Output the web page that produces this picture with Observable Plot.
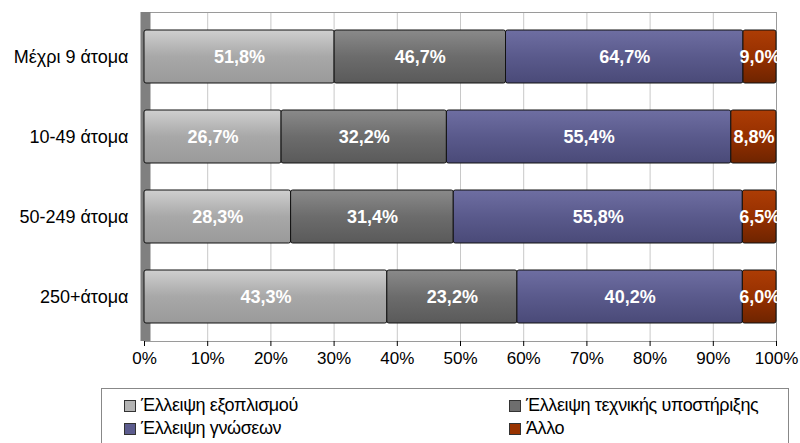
<!DOCTYPE html>
<html>
<head>
<meta charset="utf-8">
<script src="https://cdn.jsdelivr.net/npm/d3@7"></script>
<script src="https://cdn.jsdelivr.net/npm/@observablehq/plot@0.6"></script>
<style>
  body { margin: 0; background: #fff; font-family: "Liberation Sans", Arial, sans-serif; }
  #wrap { position: relative; width: 800px; height: 443px; overflow: hidden; }
  #legend { position: absolute; left: 101px; top: 388px; width: 688px; height: 70px;
    border: 1px solid #888; box-sizing: border-box; font-size: 18px; color: #000; }
  .li { position: absolute; display: flex; align-items: center; white-space: nowrap; letter-spacing: -0.4px; }
  .sw { width: 10px; height: 10px; border: 1px solid #333; margin-right: 5px; }
</style>
</head>
<body>
<div id="wrap"><div id="chart"></div><div id="legend"></div></div>
<script>
const categories = ["Μέχρι 9 άτομα", "10-49 άτομα", "50-249 άτομα", "250+άτομα"];
const series = ["Έλλειψη εξοπλισμού", "Έλλειψη τεχνικής υποστήριξης", "Έλλειψη γνώσεων", "Άλλο"];
const equipment = [51.8, 26.7, 28.3, 43.3];
const techSupport = [46.7, 32.2, 31.4, 23.2];
const knowledge = [64.7, 55.4, 55.8, 40.2];
const other = [9.0, 8.8, 6.5, 6.0];
const xTicks = [0, 0.1, 0.2, 0.3, 0.4, 0.5, 0.6, 0.7, 0.8, 0.9, 1.0];

const solid = ["#b4b4b4", "#6e6e6e", "#5c5c8e", "#993300"];
const grads = [
  ["#cfcfcf", "#a8a8a8", "#9a9a9a"],
  ["#8a8a8a", "#6c6c6c", "#5a5a5a"],
  ["#6e6ea2", "#5a5a8c", "#4a4a78"],
  ["#ad3d05", "#963000", "#6e2400"]
];

const allSeries = [equipment, techSupport, knowledge, other];
const data = [];
categories.forEach((c, i) => {
  series.forEach((s, j) => data.push({cat: c, series: s, value: allSeries[j][i]}));
});
const fmt = v => v.toFixed(1).replace(".", ",") + "%";
const pct = d => Math.round(d * 100) + "%";

const chart = Plot.plot({
  width: 800,
  height: 380,
  marginLeft: 144,
  marginRight: 24,
  marginTop: 12,
  marginBottom: 39,
  style: {fontFamily: "Liberation Sans, Arial, sans-serif", fontSize: "17px", color: "#000", background: "#fff"},
  x: {domain: [0, 1], ticks: xTicks, tickFormat: pct, label: null},
  y: {domain: categories, label: null, paddingInner: 0.3375, paddingOuter: 0.225},
  color: {type: "ordinal", domain: series, range: series.map((s, i) => `url(#grad${i})`)},
  marks: [
    Plot.gridX(xTicks, {stroke: "#c8c8c8", strokeOpacity: 1}),
    Plot.frame({stroke: "#9a9a9a", anchor: "top"}),
    Plot.frame({stroke: "#9a9a9a", anchor: "right"}),
    Plot.frame({stroke: "#9a9a9a", anchor: "bottom"}),
    Plot.ruleX([0], {stroke: "#808080", strokeWidth: 10, dx: 1}),
    Plot.barX(data, Plot.stackX({
      x: "value", y: "cat", z: "series", fill: "series", offset: "normalize",
      stroke: "#111", strokeWidth: 1, rx: 2
    })),
    Plot.text(data, Plot.stackX({
      x: "value", y: "cat", z: "series", offset: "normalize",
      text: d => fmt(d.value), fill: "white", fontWeight: "bold", fontSize: 18
    })),
    Plot.axisX({ticks: xTicks, tickFormat: pct, tickSize: 5, tickPadding: 5, fontSize: 17, label: null}),
    Plot.axisY({tickSize: 0, tickPadding: 16, fontSize: 18, label: null})
  ]
});

const ns = "http://www.w3.org/2000/svg";
const defs = document.createElementNS(ns, "defs");
grads.forEach((g, i) => {
  const lg = document.createElementNS(ns, "linearGradient");
  lg.setAttribute("id", `grad${i}`);
  lg.setAttribute("x1", "0"); lg.setAttribute("y1", "0");
  lg.setAttribute("x2", "0"); lg.setAttribute("y2", "1");
  [[0, g[0]], [0.5, g[1]], [1, g[2]]].forEach(([o, c]) => {
    const st = document.createElementNS(ns, "stop");
    st.setAttribute("offset", o);
    st.setAttribute("stop-color", c);
    lg.appendChild(st);
  });
  defs.appendChild(lg);
});
chart.insertBefore(defs, chart.firstChild);
chart.querySelectorAll("text").forEach(t => { if (t.getAttribute("fill") === "white") t.style.letterSpacing = "-0.5px"; });
document.getElementById("chart").appendChild(chart);

const legend = document.getElementById("legend");
const pos = [[22, 6], [407, 6], [22, 29], [407, 29]];
series.forEach((s, i) => {
  const d = document.createElement("div");
  d.className = "li";
  d.style.left = pos[i][0] + "px";
  d.style.top = pos[i][1] + "px";
  d.innerHTML = `<span class="sw" style="background:${solid[i]}"></span><span>${s}</span>`;
  legend.appendChild(d);
});
</script>
</body>
</html>
